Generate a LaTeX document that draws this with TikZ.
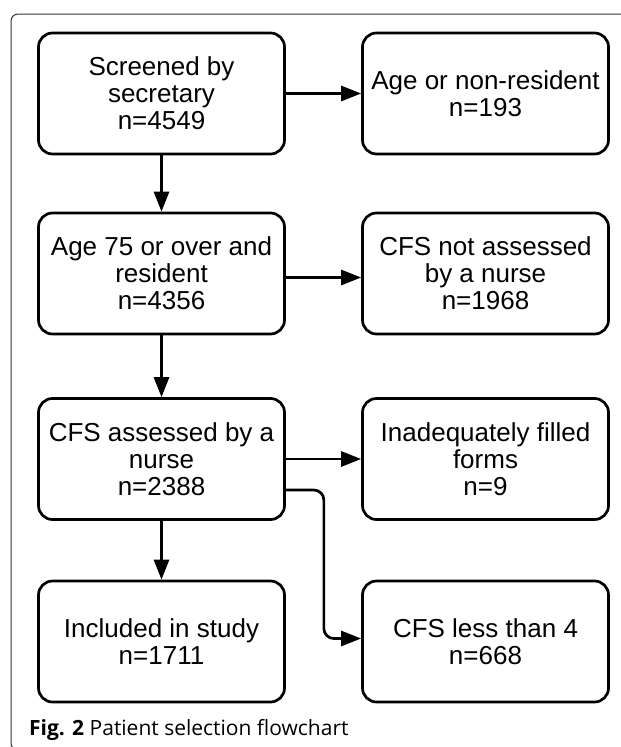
\documentclass[tikz,border=0pt]{standalone}
\usepackage{fontspec}
\usepackage{tikz}
\usepackage{xcolor}
\setmainfont{Liberation Sans}
\newfontfamily\legendafont{Open Sans}
\usetikzlibrary{
  arrows.meta,
  positioning,
  calc
}

\tikzset{
  caixa/.style={draw, line width=2.7pt, rounded corners=14pt,
    minimum width=246pt, minimum height=121pt, align=center,
    inner sep=2pt, font=\fontsize{26}{27}\selectfont},
  seta/.style={-{Triangle[length=20pt,width=15pt]}, line width=2.7pt}
}

\begin{document}
\begin{tikzpicture}[x=1pt, y=-1pt]
        % Fixa o tamanho da figura
        \useasboundingbox (0,0) rectangle (621,747);

        % Moldura externa
        \draw[line width=1pt, black!80, rounded corners=7pt] (640,14) -- (11,14) -- (11,750) -- (640,750);

        % Coluna da esquerda
        \node[caixa] (triagem) at (161.5,93.5) {Screened by\\secretary\\n=4549};
        \node[caixa] (idade) at (161.5,273.5) {Age 75 or over and\\resident\\n=4356};
        \node[caixa] (avaliado) at (161.5,459) {CFS assessed by a\\nurse\\n=2388};
        \node[caixa] (incluido) at (161.5,641.5) {Included in study\\n=1711};

        % Coluna da direita (excluidos)
        \node[caixa] (naoresid) at (485.5,93.5) {Age or non-resident\\n=193};
        \node[caixa] (naoaval) at (485.5,273.5) {CFS not assessed\\by a nurse\\n=1968};
        \node[caixa] (formularios) at (485.5,459) {Inadequately filled\\forms\\n=9};
        \node[caixa] (cfsmenor) at (485.5,641.5) {CFS less than 4\\n=668};

        % Setas para baixo
        \draw[seta] (triagem) -- (idade);
        \draw[seta] (idade) -- (avaliado);
        \draw[seta] (avaliado) -- (incluido);

        % Setas para a direita
        \draw[seta] (triagem) -- (naoresid);
        \draw[seta] ([yshift=-4pt]idade.east) -- ([yshift=-4pt]naoaval.west);
        \draw[seta] (avaliado) -- (formularios);
        \draw[seta, rounded corners=10pt] ([yshift=-31pt]avaliado.east) -- ++(38,0) |- ([yshift=3pt]cfsmenor.west);

        % Legenda
        \node[anchor=west, inner sep=0pt, font=\legendafont\fontsize{21}{21}\selectfont] (legenda) at (29,730) {\textbf{Fig. 2} Patient selection flowchart};
    \end{tikzpicture}
\end{document}
